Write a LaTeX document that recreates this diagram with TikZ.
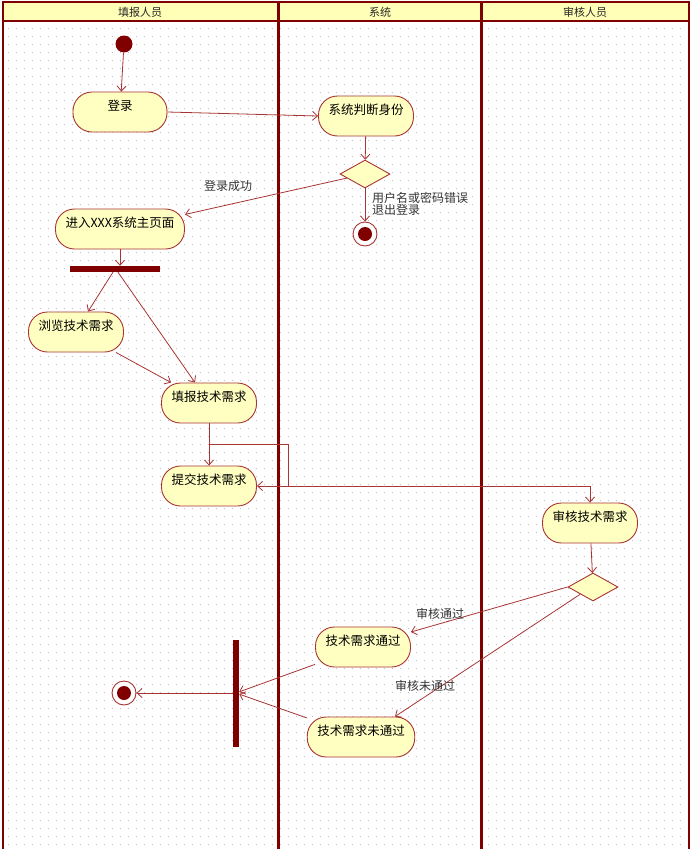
\documentclass[tikz,border=0pt]{standalone}
\usepackage{fontspec}
\setmainfont{Noto Sans CJK SC}
\usepackage{xcolor}
\usetikzlibrary{arrows.meta, calc}
\usetikzlibrary{shapes.geometric}
\definecolor{lanered}{RGB}{128,0,0}
\definecolor{flowred}{RGB}{168,52,52}
\definecolor{actfill}{RGB}{255,255,194}
\definecolor{headfill}{RGB}{255,255,184}

\tikzset{
  act/.style={draw=flowred, line width=0.9pt, fill=actfill, rounded corners=19pt,
    minimum width=94pt, minimum height=40pt, inner xsep=10pt, inner ysep=5pt,
    text height=13pt, text depth=17pt, font=\fontsize{12.5}{14}\selectfont},
  decide/.style={diamond, draw=flowred, line width=0.9pt, fill=actfill,
    minimum width=50pt, minimum height=28pt, inner sep=0pt},
  startpt/.style={circle, fill=lanered, minimum size=17pt, inner sep=0pt},
  endpt/.style={circle, draw=flowred, line width=0.9pt, fill=white, minimum size=24pt, inner sep=0pt},
  syncbar/.style={rectangle, fill=lanered, inner sep=0pt},
  flow/.style={draw=flowred, line width=0.8pt, -{Straight Barb[length=5pt,width=9pt]}},
  flowline/.style={draw=flowred, line width=0.8pt},
  guard/.style={text=black!80, font=\fontsize{12}{14}\selectfont, inner sep=1pt},
  lanehead/.style={text=black!85, font=\fontsize{11}{12}\selectfont}
}

\begin{document}
\begin{tikzpicture}[x=1pt, y=-1pt]
\useasboundingbox (0,0) rectangle (692,849);
\fill[white] (0,0) rectangle (692,849);

% dotted background
\foreach \y in {28,36,...,846}
  \draw[black!25, line width=0.9pt, dash pattern=on 0.9pt off 7.1pt] (8,\y) -- (688,\y);

% swimlanes
\fill[headfill] (3,2) rectangle (689,21);
\draw[lanered, line width=2pt] (3,2) -- (689,2);
\draw[lanered, line width=2pt] (3,21) -- (689,21);
\draw[lanered, line width=2pt] (3,1) -- (3,849);
\draw[lanered, line width=3pt] (278,1) -- (278,849);
\draw[lanered, line width=3pt] (481,1) -- (481,849);
\draw[lanered, line width=2pt] (689,1) -- (689,849);
\node[lanehead] at (140,12) {填报人员};
\node[lanehead] at (380,12) {系统};
\node[lanehead] at (585,12) {审核人员};

% activities
\node[startpt] (start) at (124,44) {};
\node[act] (login) at (120,112) {登录};
\node[act] (check) at (366,116) {系统判断身份};
\node[decide] (d1) at (365,174) {};
\node[endpt] (end1) at (365,234) {};
\fill[lanered] (end1) circle (7pt);
\node[act] (home) at (120,229) {进入XXX系统主页面};
\node[syncbar, minimum width=90pt, minimum height=6pt] (fork) at (115,269) {};
\node[act] (browse) at (76,332) {浏览技术需求};
\node[act] (report) at (209,403) {填报技术需求};
\node[act] (submit) at (209,486) {提交技术需求};
\node[act] (review) at (590,523) {审核技术需求};
\node[decide] (d2) at (593,587) {};
\node[act] (pass) at (363,647) {技术需求通过};
\node[act] (fail) at (361,737) {技术需求未通过};
\node[syncbar, minimum width=6pt, minimum height=107pt] (join) at (236,693) {};
\node[endpt] (end2) at (124,693) {};
\fill[lanered] (end2) circle (7pt);

% transitions
\draw[flow] (start) -- (login);
\draw[flow] (login.east) -- (check.west);
\draw[flow] (check) -- (d1);
\draw[flow] (d1) -- (home);
\node[guard] (okLbl) at (228,186) {登录成功};
\draw[flow] (d1) -- (end1);
\node[guard, anchor=north west, align=left] (errLbl) at (371,191) {用户名或密码错误\\[-2pt]退出登录};
\draw[flow] (home.south) -- (home.south |- fork.north);
\draw[flow] ([xshift=-2pt]fork.south) -- ([xshift=12pt]browse.north);
\draw[flow] ([xshift=3pt]fork.south) -- ([xshift=-14pt]report.north);
\draw[flow] ([xshift=-8pt]browse.south east) -- ([xshift=10pt]report.north west);
\draw[flow] (report) -- (submit);

\coordinate (mid) at ($(report.south)!0.5!(submit.north)$);
\coordinate (turn) at (288,486);
\draw[flowline] (mid) -| (turn);
\draw[flow] (turn) -- (submit.east);
\draw[flow] (turn) -- (review.north |- turn) -- (review.north);

\draw[flow] (review) -- (d2);
\draw[flow] (d2.west) -- ([yshift=15pt]pass.east);
\node[guard] (passLbl) at (440,614) {审核通过};
\draw[flow] (d2.south west) -- ([xshift=34pt]fail.north);
\node[guard] (failLbl) at (425,686) {审核未通过};
\draw[flow] (pass) -- (join);
\draw[flow] (fail) -- (join);
\draw[flow] (join) -- (end2);
\end{tikzpicture}
\end{document}
